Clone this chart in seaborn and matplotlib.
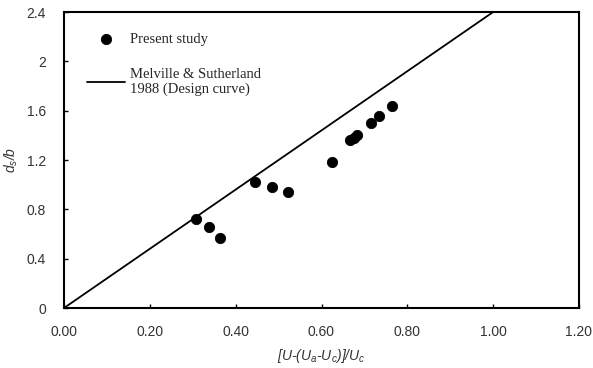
import matplotlib
matplotlib.use("Agg")
import matplotlib.pyplot as plt
import seaborn as sns
import numpy as np
import pandas as pd

# data
x_obs = [0.308, 0.338, 0.364, 0.445, 0.485, 0.522, 0.625, 0.667, 0.675, 0.683, 0.716, 0.734, 0.765]
y_obs = [0.72, 0.66, 0.57, 1.02, 0.98, 0.94, 1.18, 1.36, 1.38, 1.40, 1.50, 1.56, 1.64]
x_curve = [0.0, 1.0]
y_curve = [0.0, 2.4]
x_ticks = [0.0, 0.2, 0.4, 0.6, 0.8, 1.0, 1.2]
y_ticks = [0, 0.4, 0.8, 1.2, 1.6, 2.0, 2.4]
y_ticklabels = ["0", "0.4", "0.8", "1.2", "1.6", "2", "2.4"]

sns.set_style("ticks")
plt.rcParams['font.family'] = ['Liberation Sans', 'DejaVu Sans']
plt.rcParams['mathtext.fontset'] = 'custom'
plt.rcParams['mathtext.it'] = 'Liberation Sans:italic'
plt.rcParams['mathtext.rm'] = 'Liberation Sans'
plt.rcParams['mathtext.default'] = 'it'

fig = plt.figure(figsize=(5.93, 3.68), dpi=100)
ax = fig.add_axes([64/593, 1 - 308/368, (579-64)/593, (308-12)/368])

df_obs = pd.DataFrame({"x": x_obs, "y": y_obs})
df_curve = pd.DataFrame({"x": x_curve, "y": y_curve})

sns.lineplot(data=df_curve, x="x", y="y", ax=ax, color="black", linewidth=1.3,
             label="Melville & Sutherland\n1988 (Design curve)")
sns.scatterplot(data=df_obs, x="x", y="y", ax=ax, color="black", s=55,
                edgecolor="black", label="Present study", zorder=3)

ax.set_xlim(0, 1.2)
ax.set_ylim(0, 2.4)
ax.set_xticks(x_ticks)
ax.set_xticklabels([f"{v:.2f}" for v in x_ticks])
ax.set_yticks(y_ticks)
ax.set_yticklabels(y_ticklabels)
ax.tick_params(direction="in", length=3, width=1, labelsize=10, colors="black",
               labelcolor="#333333")
ax.tick_params(axis="y", pad=13)
ax.tick_params(axis="x", pad=12)
for s in ax.spines.values():
    s.set_linewidth(1.5)
    s.set_color("black")

ax.set_xlabel("[U-(U$_a$-U$_c$)]/U$_c$", fontsize=10, style="italic", color="#333333", labelpad=6)
ax.set_ylabel("d$_s$/b", fontsize=10, style="italic", color="#333333", labelpad=5)

handles, labels = ax.get_legend_handles_labels()
order = [1, 0]
leg = ax.legend([handles[i] for i in order], [labels[i] for i in order],
                loc="upper left", bbox_to_anchor=(0.02, 0.975), frameon=False,
                prop={"family": "Liberation Serif", "size": 10.5},
                handlelength=2.6, labelspacing=1.5, handletextpad=0.35)

fig.savefig("out.png", dpi=100)
